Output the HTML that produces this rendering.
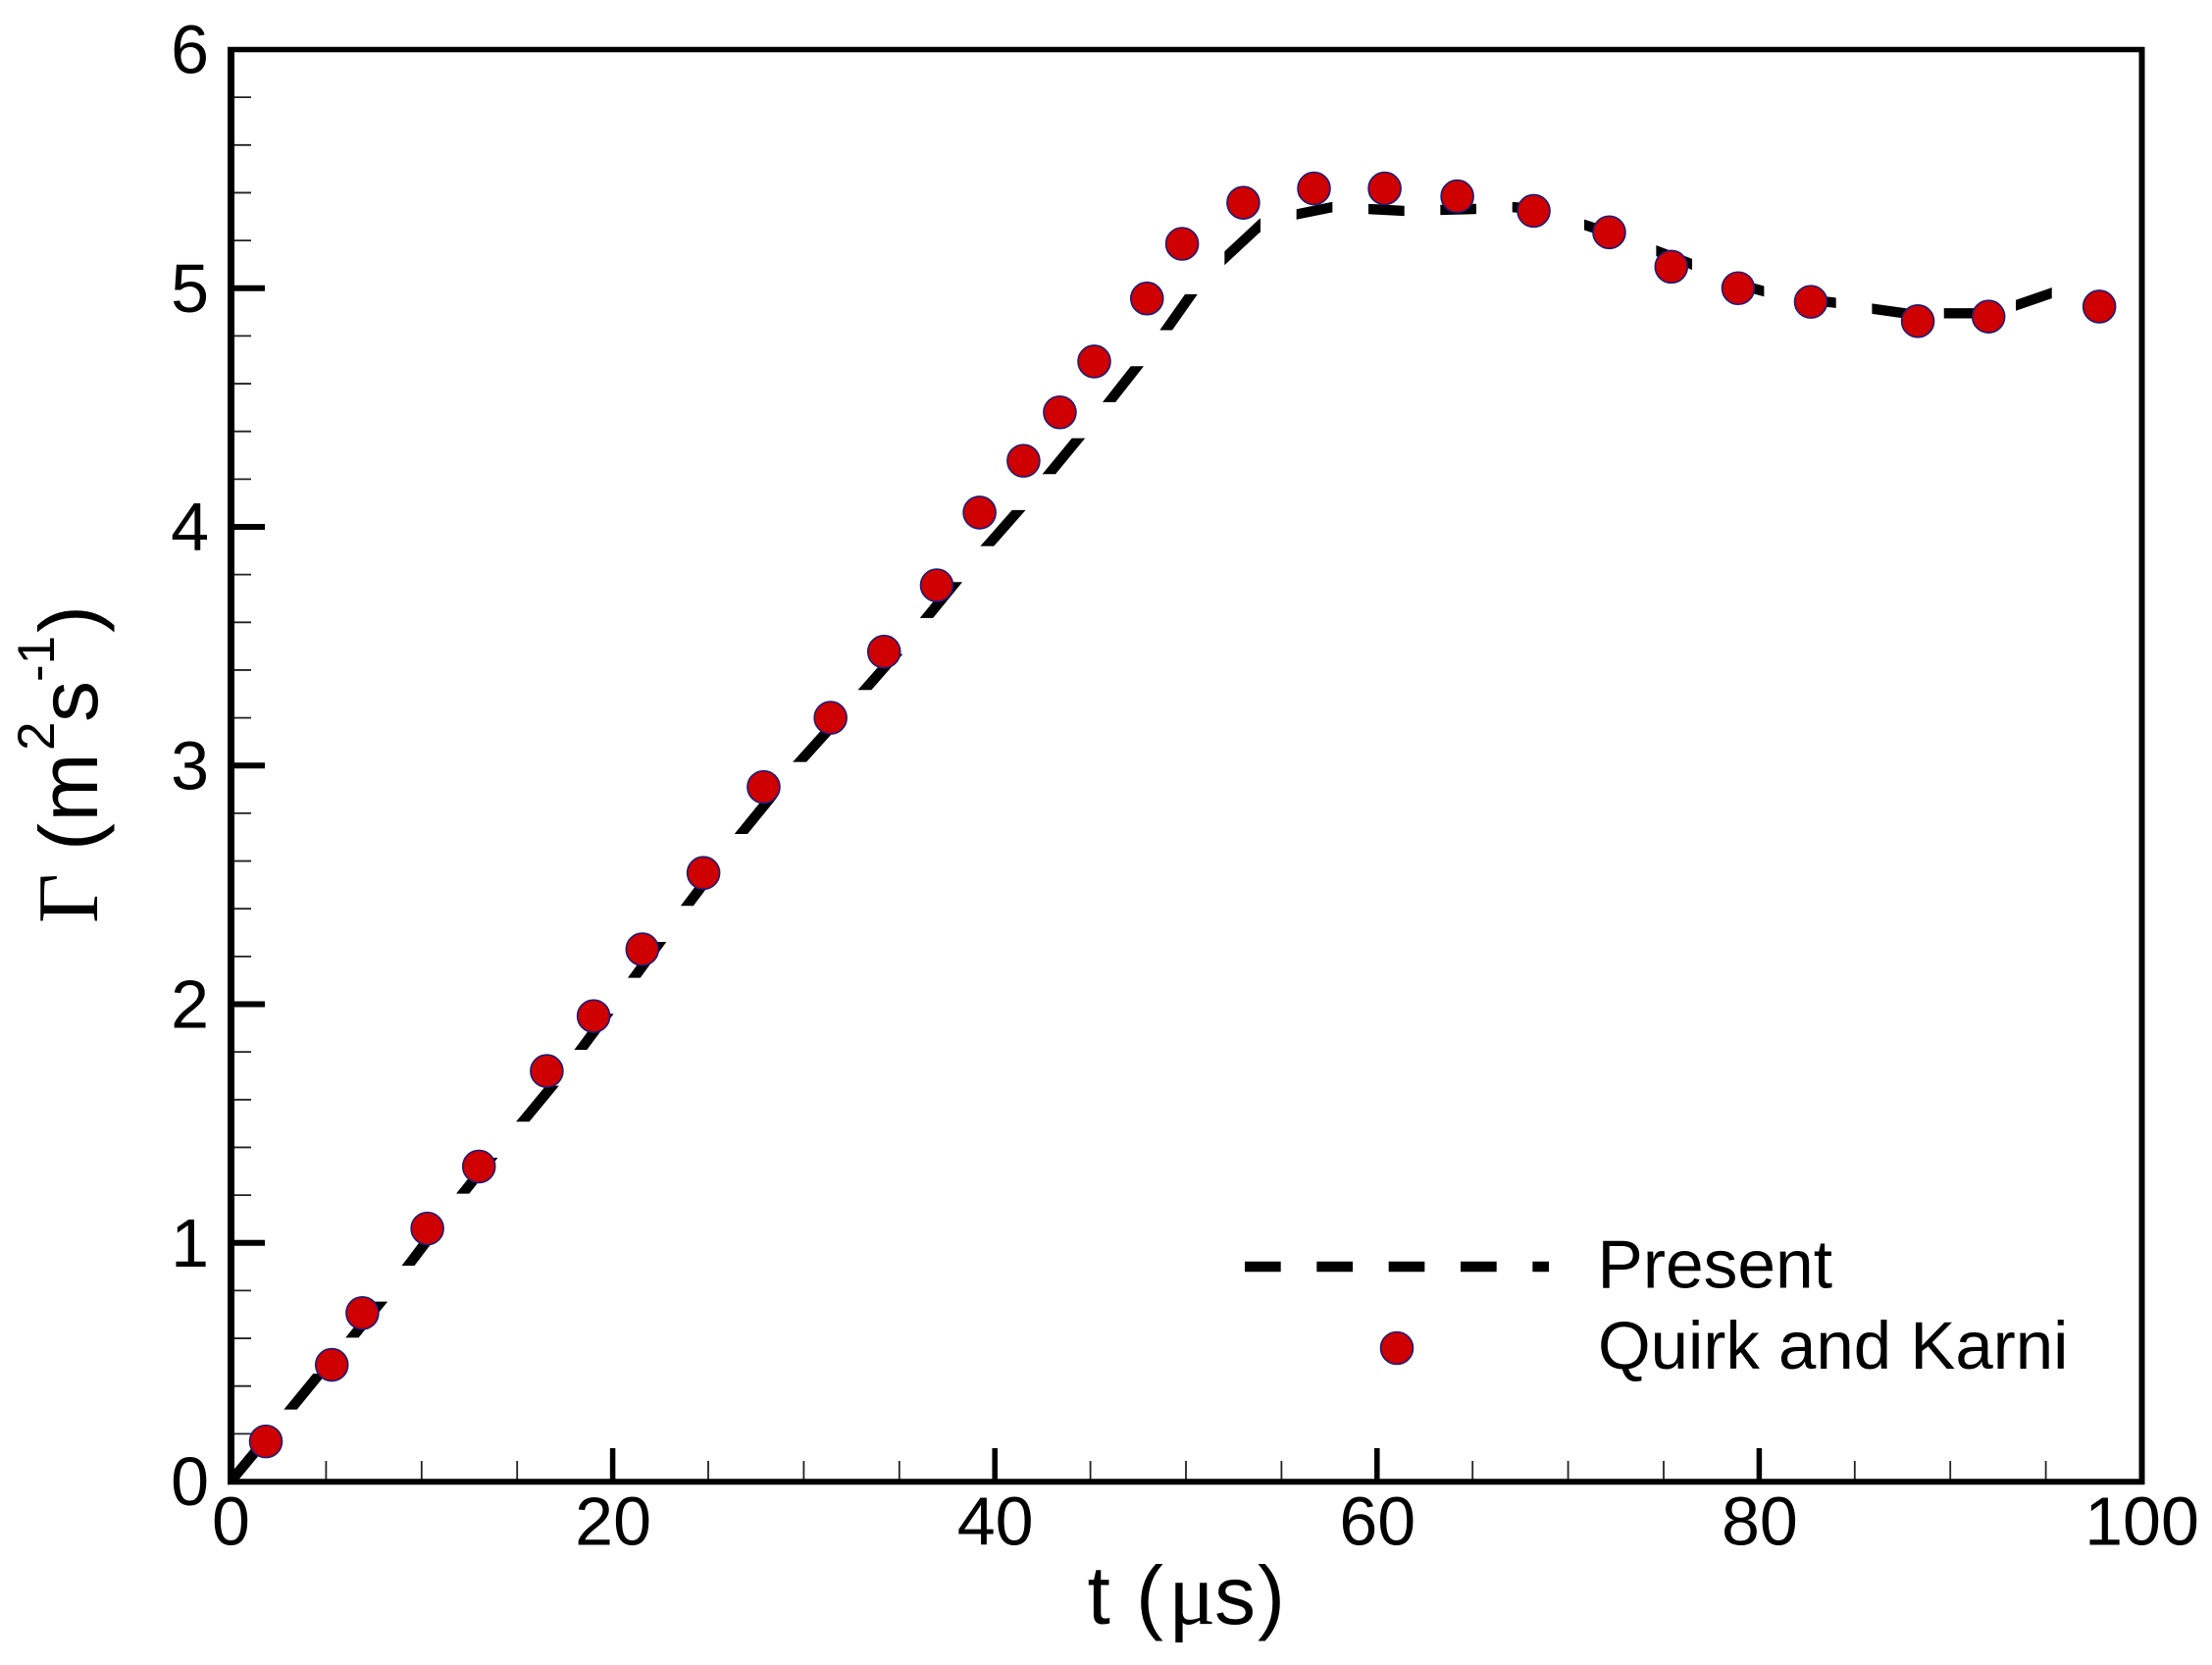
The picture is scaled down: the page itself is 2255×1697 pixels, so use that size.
<!DOCTYPE html>
<html lang="en">
<head>
<meta charset="utf-8">
<title>Circulation versus time</title>
<style>
  html, body { margin: 0; padding: 0; background: #ffffff; }
  svg { display: block; }
  text { font-family: "Liberation Sans", sans-serif; fill: #000; }
  .serif { font-family: "Liberation Serif", serif; }
</style>
</head>
<body>
<svg id="chart" xmlns="http://www.w3.org/2000/svg" width="2255" height="1697" viewBox="0 0 2255 1697">
  <defs>
    <clipPath id="plot-clip"><rect x="232" y="48" width="1954" height="1465"/></clipPath>
  </defs>
  <rect x="0" y="0" width="2255" height="1697" fill="#ffffff"/>
  <g id="minor-ticks"></g>
  <g id="major-ticks"></g>
  <g id="present-series" clip-path="url(#plot-clip)"></g>
  <g id="frame">
    <line x1="232" y1="50.5" x2="2186" y2="50.5" stroke="#000" stroke-width="5.5"/>
    <line x1="2183.5" y1="48" x2="2183.5" y2="1513" stroke="#000" stroke-width="6"/>
    <line x1="232" y1="1510.3" x2="2186" y2="1510.3" stroke="#000" stroke-width="6"/>
    <line x1="235.5" y1="49" x2="235.5" y2="1513" stroke="#000" stroke-width="7"/>
  </g>
  <g id="quirk-series"></g>
  <g id="tick-labels"></g>

  <text x="1108.5" y="1655" font-size="84">t <tspan x="1158">(</tspan><tspan class="serif" x="1191" font-size="90">μ</tspan><tspan x="1238">s</tspan><tspan x="1282">)</tspan></text>

  <text transform="rotate(-90)" font-size="84"><tspan class="serif" x="-941" y="99" font-size="88">Γ</tspan><tspan x="-867" y="99">(</tspan><tspan x="-837.5" y="99">m</tspan><tspan x="-765" y="55" font-size="53">2</tspan><tspan x="-736" y="99">s</tspan><tspan x="-695" y="55" font-size="53">-1</tspan><tspan x="-645" y="99">)</tspan></text>

  <g>
    <line x1="1269" y1="1291" x2="1579" y2="1291" stroke="#000" stroke-width="10.5" stroke-dasharray="36.67 36.67"/>
    <text x="1628.5" y="1312.5" font-size="69.5">Present</text>
    <circle cx="1424" cy="1374" r="16.5" fill="#cf0000" stroke="#1c1c78" stroke-width="1.6"/>
    <text x="1629" y="1395" font-size="69">Quirk and Karni</text>
  </g>
</svg>
<script>
// Tick labels
const xTickLabels = [0, 20, 40, 60, 80, 100];
const yTickLabels = [0, 1, 2, 3, 4, 5, 6];

// Present (dashed line) series
const presentT = [0, 3.16, 4.67, 6.37, 7.87, 9.29, 12.15, 13.65, 15.3, 16.84, 18.33, 21.13, 22.48, 23.9, 26.73, 29.79, 33.2, 34.83, 36.43, 37.95, 39.6, 41.25, 42.85, 44.4, 46.0, 47.47, 48.97, 50.3, 52.0, 53.85, 55.7, 57.6, 59.5, 61.4, 63.2, 65.1, 67, 68.9, 70.8, 72.6, 74.5, 76.4, 78.3, 80.2, 82.1, 83.9, 85.9, 87.8, 89.65, 91.5, 93.4, 95.2, 96.9];
const presentGamma = [0, 0.304, 0.452, 0.604, 0.753, 0.904, 1.206, 1.357, 1.509, 1.658, 1.81, 2.112, 2.261, 2.413, 2.715, 3.016, 3.318, 3.467, 3.619, 3.768, 3.92, 4.07, 4.223, 4.374, 4.525, 4.675, 4.826, 4.977, 5.124, 5.262, 5.308, 5.339, 5.332, 5.324, 5.328, 5.332, 5.34, 5.33, 5.267, 5.22, 5.16, 5.103, 5.03, 4.988, 4.955, 4.94, 4.914, 4.893, 4.895, 4.895, 4.927, 4.977, 5.03];

// Quirk and Karni (marker) series
const quirkT = [1.85, 5.3, 6.9, 10.3, 13.0, 16.55, 19.0, 21.55, 24.75, 27.9, 31.4, 34.2, 36.96, 39.2, 41.5, 43.4, 45.2, 47.96, 49.8, 53.0, 56.7, 60.4, 64.2, 68.2, 72.15, 75.4, 78.9, 82.7, 88.3, 92.0, 97.8];
const quirkGamma = [0.168, 0.489, 0.706, 1.06, 1.32, 1.72, 1.95, 2.23, 2.55, 2.91, 3.2, 3.477, 3.755, 4.06, 4.277, 4.48, 4.693, 4.957, 5.186, 5.358, 5.418, 5.418, 5.385, 5.324, 5.234, 5.09, 5.0, 4.943, 4.862, 4.881, 4.923];

const SVG_NS = 'http://www.w3.org/2000/svg';
const X_MIN = 0, X_MAX = 100, Y_MIN = 0, Y_MAX = 6;
const PLOT_LEFT = 235, PLOT_RIGHT = 2183, PLOT_BOTTOM = 1510, PLOT_TOP = 50.5;
const DASH_ON = 36.67, DASH_OFF = 36.67, LINE_WIDTH = 10.4;

function xScale(v) { return PLOT_LEFT + (v - X_MIN) / (X_MAX - X_MIN) * (PLOT_RIGHT - PLOT_LEFT); }
function yScale(v) { return PLOT_BOTTOM - (v - Y_MIN) / (Y_MAX - Y_MIN) * (PLOT_BOTTOM - PLOT_TOP); }

function make(tag, attrs, parentId) {
  const el = document.createElementNS(SVG_NS, tag);
  for (const k in attrs) el.setAttribute(k, attrs[k]);
  document.getElementById(parentId).appendChild(el);
  return el;
}

// Major x ticks and labels, with minor ticks between them
xTickLabels.forEach(function (v, i) {
  const px = xScale(v);
  if (i > 0 && i < xTickLabels.length - 1) {
    const tick = make('line', { x1: px, y1: 1476, x2: px, y2: 1508, stroke: '#000', 'stroke-width': 5.5 }, 'major-ticks');
    
    
  }
  const label = make('text', { x: px + 0.5, y: 1574.5, 'font-size': 70, 'text-anchor': 'middle' }, 'tick-labels');
  label.textContent = String(v);
  
  
  if (i < xTickLabels.length - 1) {
    const step = (xTickLabels[i + 1] - v) / 4;
    for (let m = 1; m < 4; m++) {
      const mx = xScale(v + m * step);
      const minor = make('line', { x1: mx, y1: 1489, x2: mx, y2: 1508, stroke: '#222', 'stroke-width': 1.8 }, 'minor-ticks');
      
      
    }
  }
});

// Major y ticks and labels, with minor ticks between them
yTickLabels.forEach(function (v, i) {
  const py = yScale(v);
  if (i > 0 && i < yTickLabels.length - 1) {
    const tick = make('line', { x1: 238, y1: py, x2: 270, y2: py, stroke: '#000', 'stroke-width': 6 }, 'major-ticks');
    
    
  }
  const label = make('text', { x: 213, y: py + 24, 'font-size': 70, 'text-anchor': 'end' }, 'tick-labels');
  label.textContent = String(v);
  
  
  if (i < yTickLabels.length - 1) {
    const step = (yTickLabels[i + 1] - v) / 5;
    for (let m = 1; m < 5; m++) {
      const my = yScale(v + m * step);
      const minor = make('line', { x1: 238, y1: my, x2: 256, y2: my, stroke: '#222', 'stroke-width': 1.8 }, 'minor-ticks');
      
      
    }
  }
});

// Dashed line: dash lengths are measured along the dominant axis of each segment,
// and dashes end flat on that axis.
function buildDashes(points) {
  const dashes = [];
  let on = true, left = DASH_ON, current = [points[0]];
  for (let i = 1; i < points.length; i++) {
    let a = points[i - 1];
    const b = points[i];
    let segLen = Math.max(Math.abs(b[0] - a[0]), Math.abs(b[1] - a[1]));
    while (segLen > left) {
      const f = left / segLen;
      const p = [a[0] + (b[0] - a[0]) * f, a[1] + (b[1] - a[1]) * f];
      if (on) { current.push(p); dashes.push(current); current = []; }
      else { current = [p]; }
      on = !on;
      segLen -= left;
      left = on ? DASH_ON : DASH_OFF;
      a = p;
    }
    left -= segLen;
    if (on) current.push(b);
  }
  if (on && current.length > 1) dashes.push(current);
  return dashes;
}

function dashPolygon(d) {
  const p0 = d[0], p1 = d[d.length - 1];
  const dx = Math.abs(p1[0] - p0[0]), dy = Math.abs(p1[1] - p0[1]);
  const len = Math.hypot(dx, dy) || 1;
  const steep = dy > dx;
  const half = (steep ? LINE_WIDTH * len / dy : LINE_WIDTH * len / dx) / 2;
  const sideA = d.map(function (p) { return steep ? [p[0] - half, p[1]] : [p[0], p[1] - half]; });
  const sideB = d.map(function (p) { return steep ? [p[0] + half, p[1]] : [p[0], p[1] + half]; }).reverse();
  return sideA.concat(sideB).map(function (p) { return p[0].toFixed(2) + ',' + p[1].toFixed(2); }).join(' ');
}

const presentPixels = presentT.map(function (t, i) { return [xScale(t), yScale(presentGamma[i])]; });
buildDashes(presentPixels).forEach(function (d) {
  const dash = make('polygon', { points: dashPolygon(d), fill: '#000' }, 'present-series');
  
  
});

// Markers
quirkT.forEach(function (t, i) {
  const dot = make('circle', { cx: xScale(t), cy: yScale(quirkGamma[i]), r: 16.5, fill: '#cf0000', stroke: '#1c1c78', 'stroke-width': 1.6 }, 'quirk-series');
  
  
});
</script>
</body>
</html>
